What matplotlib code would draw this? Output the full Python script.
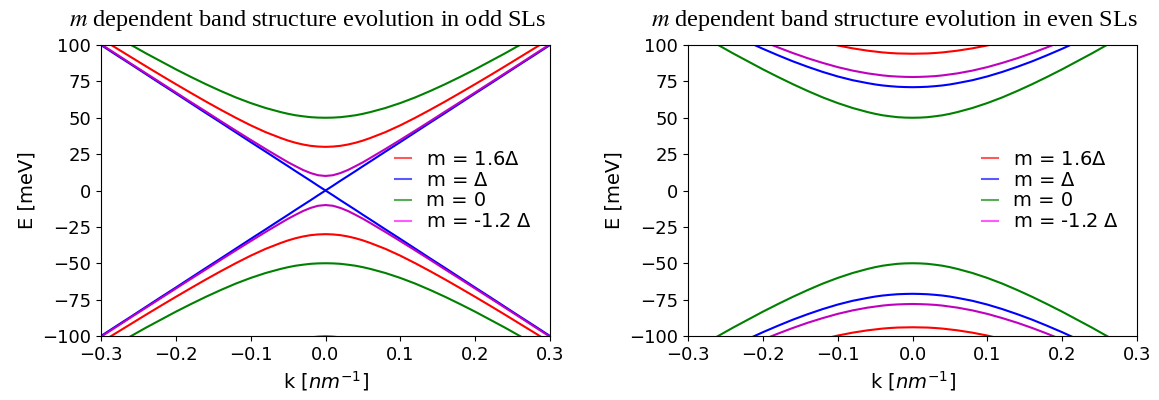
import matplotlib
matplotlib.use('Agg')
import matplotlib.pyplot as plt
import numpy as np
from matplotlib.lines import Line2D

# k grid [1/nm], denser around the band edges at k = 0
k = [-0.30, -0.28, -0.26, -0.24, -0.22, -0.20, -0.18, -0.16, -0.14, -0.12, -0.10, -0.08,
     -0.06, -0.05, -0.04, -0.03, -0.02, -0.01, 0.00, 0.01, 0.02, 0.03, 0.04, 0.05, 0.06,
     0.08, 0.10, 0.12, 0.14, 0.16, 0.18, 0.20, 0.22, 0.24, 0.26, 0.28, 0.30]

# conduction band energies [meV] (valence band = mirror image)
odd_red = [104.4, 98.0, 91.7, 85.4, 79.2, 73.1, 67.1, 61.2, 55.5, 50.0, 44.8, 40.1,
           36.1, 34.3, 32.8, 31.6, 30.7, 30.2, 30.0, 30.2, 30.7, 31.6, 32.8, 34.3, 36.1,
           40.1, 44.8, 50.0, 55.5, 61.2, 67.1, 73.1, 79.2, 85.4, 91.7, 98.0, 104.4]
odd_blue = [100.0, 93.3, 86.7, 80.0, 73.3, 66.7, 60.0, 53.3, 46.7, 40.0, 33.3, 26.7,
            20.0, 16.7, 13.3, 10.0, 6.7, 3.3, 0.0, 3.3, 6.7, 10.0, 13.3, 16.7, 20.0,
            26.7, 33.3, 40.0, 46.7, 53.3, 60.0, 66.7, 73.3, 80.0, 86.7, 93.3, 100.0]
odd_green = [111.8, 105.9, 100.1, 94.3, 88.8, 83.3, 78.1, 73.1, 68.4, 64.0, 60.1, 56.7,
             53.9, 52.7, 51.7, 51.0, 50.4, 50.1, 50.0, 50.1, 50.4, 51.0, 51.7, 52.7, 53.9,
             56.7, 60.1, 64.0, 68.4, 73.1, 78.1, 83.3, 88.8, 94.3, 100.1, 105.9, 111.8]
odd_magenta = [100.5, 93.9, 87.2, 80.6, 74.0, 67.4, 60.8, 54.3, 47.7, 41.2, 34.8, 28.5,
               22.4, 19.4, 16.7, 14.1, 12.0, 10.5, 10.0, 10.5, 12.0, 14.1, 16.7, 19.4, 22.4,
               28.5, 34.8, 41.2, 47.7, 54.3, 60.8, 67.4, 74.0, 80.6, 87.2, 93.9, 100.5]
# next blue band, only just touching the frame at k = 0
odd_blue2 = [176.2, 169.1, 162.1, 155.2, 148.4, 141.8, 135.4, 129.3, 123.5, 118.1, 113.2, 108.9,
             105.3, 103.9, 102.6, 101.7, 100.9, 100.5, 100.3, 100.5, 100.9, 101.7, 102.6, 103.9, 105.3,
             108.9, 113.2, 118.1, 123.5, 129.3, 135.4, 141.8, 148.4, 155.2, 162.1, 169.1, 176.2]

even_red = [137.2, 132.5, 127.9, 123.6, 119.6, 115.6, 111.8, 108.1, 105.0, 102.2, 99.7, 97.7,
            96.1, 95.5, 94.9, 94.5, 94.2, 94.1, 94.0, 94.1, 94.2, 94.5, 94.9, 95.5, 96.1,
            97.7, 99.7, 102.2, 105.0, 108.1, 111.8, 115.6, 119.6, 123.6, 127.9, 132.5, 137.2]
even_blue = [122.2, 117.0, 111.9, 106.9, 102.1, 97.4, 93.0, 88.8, 85.0, 81.5, 78.4, 75.8,
             73.8, 72.9, 72.2, 71.7, 71.3, 71.1, 71.0, 71.1, 71.3, 71.7, 72.2, 72.9, 73.8,
             75.8, 78.4, 81.5, 85.0, 88.8, 93.0, 97.4, 102.1, 106.9, 111.9, 117.0, 122.2]
even_green = odd_green
even_magenta = [126.8, 121.6, 116.6, 111.7, 107.1, 102.6, 98.4, 94.5, 90.9, 87.7, 84.8, 82.4,
                80.5, 79.8, 79.1, 78.6, 78.3, 78.1, 78.0, 78.1, 78.3, 78.6, 79.1, 79.8, 80.5,
                82.4, 84.8, 87.7, 90.9, 94.5, 98.4, 102.6, 107.1, 111.7, 116.6, 121.6, 126.8]

labels = ['m = 1.6$\\Delta$', 'm = $\\Delta$', 'm = 0', 'm = -1.2 $\\Delta$']
line_colors = ['r', 'b', 'g', 'm']
legend_colors = ['red', 'blue', 'green', 'magenta']

k = np.array(k)

fig = plt.figure(figsize=(11.59, 4.0), dpi=100)
ax1 = fig.add_axes([101/1159, 64/400, 449/1159, 291/400])
ax2 = fig.add_axes([688/1159, 64/400, 449/1159, 291/400])

panels = [
    (ax1, [odd_red, odd_blue, odd_green, odd_magenta], 'odd'),
    (ax2, [even_red, even_blue, even_green, even_magenta], 'even'),
]

for ax, bands, name in panels:
    if name == 'odd':
        ax.plot(k, np.array(odd_blue2), color='b', lw=1.5)
        ax.plot(k, -np.array(odd_blue2), color='b', lw=1.5)
    for E, c in zip(bands, line_colors):
        E = np.array(E)
        ax.plot(k, E, color=c, lw=1.5)
        ax.plot(k, -E, color=c, lw=1.5)
    ax.set_xlim(-0.3, 0.3)
    ax.set_ylim(-100, 100)
    ax.set_xticks([-0.3, -0.2, -0.1, 0.0, 0.1, 0.2, 0.3])
    ax.set_yticks([-100, -75, -50, -25, 0, 25, 50, 75, 100])
    ax.tick_params(labelsize=13)
    ax.set_xlabel('k [$nm^{-1}$]', fontsize=14)
    ax.set_ylabel('E [meV]', fontsize=14)
    ax.set_title('$m$ dependent band structure evolution in %s SLs' % name,
                 fontsize=17.5, fontfamily='Liberation Serif', math_fontfamily='stix',
                 x=0.46, pad=14)
    handles = [Line2D([], [], color=c, alpha=0.65, lw=1.5) for c in legend_colors]
    ax.legend(handles, labels, loc='center right', frameon=False, fontsize=14,
              handlelength=0.8, handletextpad=0.8, labelspacing=0.1)

fig.savefig('out.png', dpi=100)
